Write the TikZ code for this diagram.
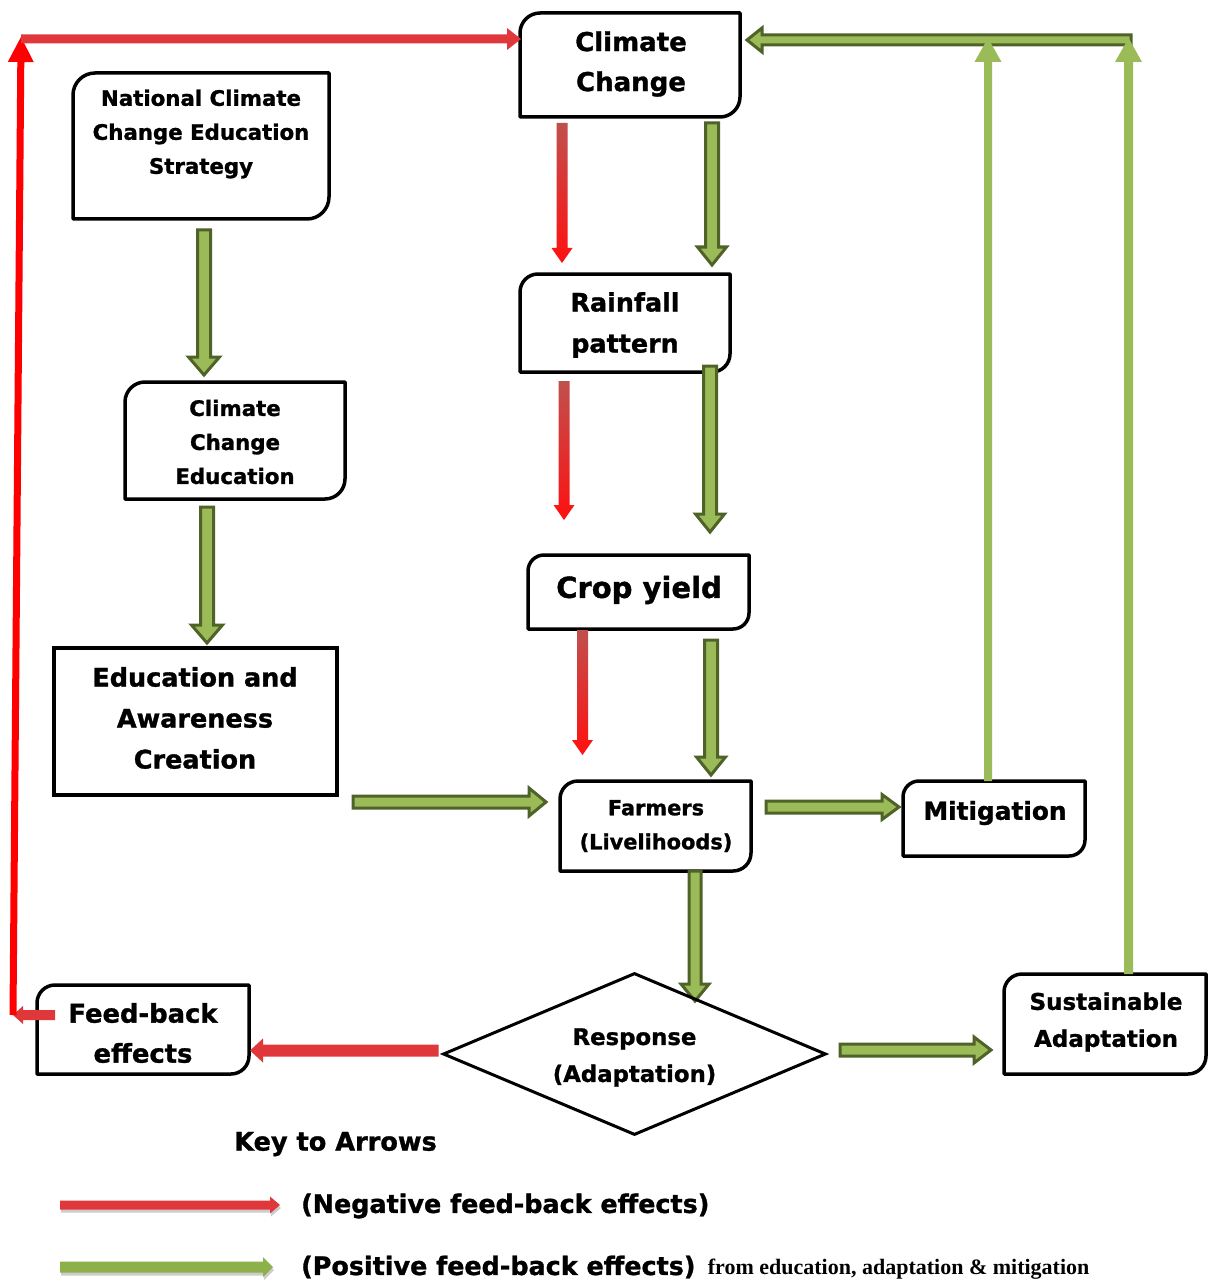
\documentclass[tikz,border=0pt]{standalone}
\usepackage{fontspec}
\setmainfont{DejaVu Sans}[BoldFeatures={FakeBold=1.2}]
\newfontfamily\keyserif{Liberation Serif}
\usetikzlibrary{calc,fit,shapes.geometric}
\definecolor{gfill}{HTML}{9BBB59}
\definecolor{gdark}{HTML}{4F6228}
\definecolor{gkey}{HTML}{8DB04A}
\definecolor{rdark}{HTML}{C0504D}
\definecolor{rmid}{HTML}{E0383A}
\definecolor{rbright}{HTML}{FF1010}
\newcommand\fs[2]{\bfseries\fontsize{#1}{#2}\selectfont}
% block arrow: style, start, tip, half shaft, half head, head length
\newcommand\barrow[6]{%
  \coordinate (bA) at #2;
  \coordinate (bB) at #3;
  \coordinate (bC) at ($(bB)!#6pt!(bA)$);
  \path[#1] ($(bA)!#4pt!90:(bB)$) -- ($(bC)!#4pt!90:(bB)$) -- ($(bC)!#5pt!90:(bB)$) -- (bB)
    -- ($(bC)!#5pt!-90:(bB)$) -- ($(bC)!#4pt!-90:(bB)$) -- ($(bA)!#4pt!-90:(bB)$) -- cycle;
}
% box with rounded top-left and bottom-right corners
\newcommand\rbox[6]{%
  \node[fit={(#2,#3) (#4,#5)}, inner sep=0pt, outer sep=0pt] (#1) {};
  \draw[boxline] (#1.south west) -- ($(#1.north west)+(0,#6)$)
    .. controls ($(#1.north west)+(0,0.45*#6)$) and ($(#1.north west)+(0.45*#6,0)$) .. ($(#1.north west)+(#6,0)$)
    -- (#1.north east) -- ($(#1.south east)+(0,-#6)$)
    .. controls ($(#1.south east)+(0,-0.45*#6)$) and ($(#1.south east)+(-0.45*#6,0)$) .. ($(#1.south east)+(-#6,0)$) -- cycle;
}
\begin{document}
\begin{tikzpicture}[x=1pt,y=-1pt,
  boxline/.style={draw=black, line width=3.5pt, line join=round},
  lbl/.style={align=center, inner sep=0pt},
  ghollow/.style={fill=gfill, draw=gdark, line width=3pt, line join=miter},
  gsolid/.style={fill=gfill},
  rgrad/.style={shade, top color=rdark, bottom color=rbright},
  rsolid/.style={fill=rmid},
  rvivid/.style={fill=red},
  keyred/.style={fill=rmid},
  keygreen/.style={fill=gkey},
  keyshadow/.style={fill=black!20}]
\fill[white] (0,0) rectangle (1218,1281);
\useasboundingbox (0,0) rectangle (1218,1281);

% ---------- boxes ----------
\rbox{cc}{520}{13}{740}{117}{20}
\rbox{ncces}{73}{73}{329}{219}{22}
\rbox{cce}{125}{382}{345}{499}{20}
\node[fit={(54,648) (337,795)}, inner sep=0pt, outer sep=0pt, draw, line width=3.5pt] (eac) {};
\rbox{rf}{520}{274}{730}{372}{18}
\rbox{crop}{528}{555}{749}{629}{16}
\rbox{farm}{560}{781}{751}{871}{18}
\rbox{mit}{903}{781}{1085}{856}{16}
\rbox{sa}{1004}{974}{1206}{1074}{18}
\rbox{fb}{37}{985}{249}{1074}{18}

% ---------- texts ----------
\node[lbl, font={\fs{26}{40}}] (cct) at (631,64) {Climate\\Change};
\node[lbl, font={\fs{21.3}{34}}] (ncct) at (201,134) {National Climate\\Change Education\\Strategy};
\node[lbl, font={\fs{21.3}{34}}] (ccet) at (235,442) {Climate\\Change\\Education};
\node[lbl, font={\fs{25.5}{41}}] (eact) at (195,718) {Education and\\Awareness\\Creation};
\node[lbl, font={\fs{25.4}{41}}] (rft) at (625,325) {Rainfall\\pattern};
\node[lbl, font={\fs{29}{34}}] (cropt) at (639,590) {Crop yield};
\node[lbl, font={\fs{20.9}{34}}] (farmt) at (656,826) {Farmers\\(Livelihoods)};
\node[lbl, font={\fs{24.8}{30}}] (mitt) at (995,813) {Mitigation};
\node[lbl, font={\fs{23}{37}}] (sat) at (1106,1022) {Sustainable\\Adaptation};
\node[lbl, font={\fs{25.8}{40}}] (fbt) at (143,1033) {Feed-back\\effects};

% ---------- green arrows ----------
\coordinate (a1) at ($(ncces.south)+(3,11)$);
\barrow{ghollow}{(a1)}{($(a1 |- cce.north)+(0,-7)$)}{6.5}{15.5}{18}
\coordinate (a2) at ($(cce.south)+(-28,8)$);
\barrow{ghollow}{(a2)}{($(a2 |- eac.north)+(0,-5)$)}{6.5}{15.5}{18}
\coordinate (a3) at ($(cc.south)+(82,6)$);
\barrow{ghollow}{(a3)}{($(a3 |- rf.north)+(0,-9)$)}{6.5}{14.5}{18}
\coordinate (a4) at ($(rf.south)+(85,-6)$);
\barrow{ghollow}{(a4)}{($(a4 |- crop.north)+(0,-23)$)}{6.5}{14.5}{18}
\coordinate (a5) at ($(crop.south)+(72.5,11)$);
\barrow{ghollow}{(a5)}{($(a5 |- farm.north)+(0,-6)$)}{6.5}{14.5}{18}
\coordinate (a6) at ($(eac.south east)+(16,7)$);
\barrow{ghollow}{(a6)}{($(a6 -| farm.west)+(-14,0)$)}{6}{14}{17}
\coordinate (a7) at ($(farm.east)+(15,-19)$);
\barrow{ghollow}{(a7)}{($(a7 -| mit.west)+(-4,0)$)}{6}{12.5}{17}
\coordinate (a9) at ($(sa.west)+(-164,26)$);
\barrow{ghollow}{(a9)}{($(a9 -| sa.west)+(-13,0)$)}{6}{13}{17}

% ---------- red arrows ----------
\coordinate (r1) at ($(cc.south)+(-68,6)$);
\barrow{rgrad}{(r1)}{($(r1 |- rf.north)+(0,-11)$)}{5.5}{10.5}{15}
\coordinate (r2) at ($(rf.south)+(-61,9)$);
\barrow{rgrad}{(r2)}{($(r2 |- crop.north)+(0,-35)$)}{5.5}{10.5}{15}
\coordinate (r3) at ($(crop.south)+(-56,1)$);
\barrow{rgrad}{(r3)}{($(r3 |- farm.north)+(0,-26)$)}{5.5}{10.5}{15}

% ---------- Response ----------
\coordinate (a8) at ($(farm.south)+(39.5,0)$);
\barrow{ghollow}{(a8)}{($(a8)+(0,130)$)}{6}{14}{17}
\node[diamond, aspect=2.36, draw, line width=3pt, minimum width=383pt, minimum height=162pt,
      inner sep=0pt] (resp) at (634.5,1054) {};
\node[lbl, font={\fs{22.8}{37}}] (respt) at (634.5,1057.5) {Response\\(Adaptation)};

\coordinate (r4) at ($(resp.west)+(-3,-3.5)$);
\barrow{rsolid}{(r4)}{($(r4 -| fb.east)+(1,0)$)}{6}{12}{13}

% ---------- feedback loop (left, red) ----------
\coordinate (tl) at (21,39);
\coordinate (r5) at ($(fb.west)+(18,-14.5)$);
\coordinate (fbtip) at ($(fb.west)+(-24,-14.5)$);
\barrow{rsolid}{(r5)}{(fbtip)}{5}{9}{10}
\barrow{rvivid}{(fbtip)}{($(tl)+(0,-2)$)}{3.5}{13}{25}
\barrow{rsolid}{(tl)}{($(tl -| cc.west)+(1,0)$)}{4.5}{11}{14}

% ---------- feedback loop (right, green) ----------
\coordinate (m1) at ($(mit.north)+(-6,0)$);
\coordinate (s1) at ($(sa.north)+(23.5,0)$);
\coordinate (t1) at ($(s1 |- tl)+(2.5,1)$);
\barrow{ghollow}{(t1)}{($(t1 -| cc.east)+(7,0)$)}{5}{12}{15}
\barrow{gsolid}{(m1)}{($(m1 |- tl)+(0,-1)$)}{4}{13.5}{24}
\barrow{gsolid}{(s1)}{($(s1 |- tl)+(0,-1)$)}{4.5}{13.5}{24}

% ---------- key ----------
\node[lbl, anchor=west, font={\fs{25.6}{30}}] (key) at (234,1144) {Key to Arrows};
\coordinate (k1) at (60,1205);
\coordinate (k2) at (280,1205);
\coordinate (k3) at (60,1267);
\coordinate (k4) at (273,1267);
\barrow{keyshadow}{($(k1)+(1,3)$)}{($(k2)+(1,3)$)}{4.5}{8.5}{10}
\barrow{keyred}{(k1)}{(k2)}{4.5}{8.5}{10}
\barrow{keyshadow}{($(k3)+(1,3)$)}{($(k4)+(1,3)$)}{5.5}{10}{10}
\barrow{keygreen}{(k3)}{(k4)}{5.5}{10}{10}
\node[lbl, anchor=west, font={\fs{25.4}{30}}] (neg) at (301,1206) {(Negative feed-back effects)};
\node[lbl, anchor=west, font={\fs{25.4}{30}}] (pos) at (301,1267) {(Positive feed-back effects)};
\node[inner sep=0pt, anchor=base west, font={\keyserif\bfseries\fontsize{22}{26}\selectfont}] (from)
  at ($(pos.base east)+(12,0)$) {from education, adaptation \& mitigation};
\end{tikzpicture}
\end{document}
